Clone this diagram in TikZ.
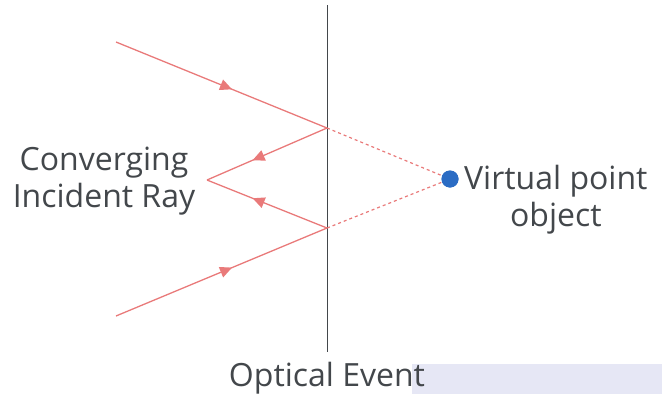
\documentclass[tikz,border=0pt]{standalone}
\usepackage{fontspec}
\setmainfont{Open Sans}
\usepackage{tikz}
\usetikzlibrary{arrows.meta, positioning, decorations.markings}
\definecolor{rayA}{HTML}{E97A7A}
\definecolor{dotA}{HTML}{2B6CC4}
\definecolor{textA}{HTML}{43474B}
\definecolor{bandA}{HTML}{E6E7F5}
\tikzset{
  ray/.style={draw=rayA, line width=1.3pt},
  midarrow/.style={
    postaction=decorate,
    decoration={markings, mark=at position #1 with {\arrow{Triangle[length=12pt, width=11pt]}}}
  },
  virtual/.style={draw=rayA, line width=1.2pt, dashed, dash pattern=on 3pt off 3pt},
  lbl/.style={text=textA, font=\fontsize{32}{37}\selectfont, align=center, inner sep=0pt}
}

\begin{document}
\begin{tikzpicture}[x=1pt, y=-1pt]
  \useasboundingbox (0,0) rectangle (662,394);
  \fill[bandA] (412,364) rectangle (662,394);

  % mirror line
  \coordinate (mtop) at (327,5);
  \coordinate (mbot) at (327,352);
  \draw[textA, line width=1pt] (mtop) -- (mbot);

  % points on the rays
  \coordinate (inA) at (116,42);
  \coordinate (inB) at (116,316);
  \coordinate (hitA) at (327,128);
  \coordinate (hitB) at (327,228);
  \coordinate (apex) at (207,180);
  \node[circle, fill=dotA, minimum size=17pt, inner sep=0pt] (img) at (450,179) {};

  % incident and reflected rays
  \draw[ray, midarrow=0.55] (inA) -- (hitA);
  \draw[ray, midarrow=0.55] (inB) -- (hitB);
  \draw[ray, midarrow=0.62] (hitA) -- (apex);
  \draw[ray, midarrow=0.62] (hitB) -- (apex);

  % extensions to the virtual object
  \draw[virtual] (hitA) -- (img.center);
  \draw[virtual] (hitB) -- (img.center);
  \node[circle, fill=dotA, minimum size=17pt, inner sep=0pt] at (img) {};

  % labels
  \node[lbl] (conv) at (104,181) {Converging\\Incident Ray};
  \node[lbl, anchor=west] (vpo) at (464,200) {Virtual point\\object};
  \node[lbl] (event) at (327,378) {Optical Event};
\end{tikzpicture}
\end{document}
